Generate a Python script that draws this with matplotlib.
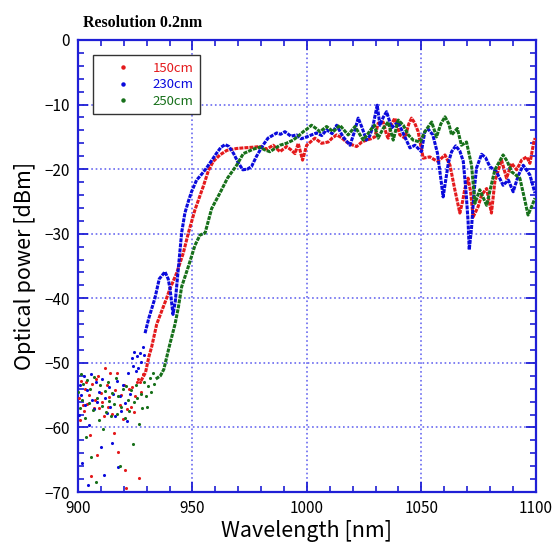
import numpy as np
import matplotlib
matplotlib.use('Agg')
import matplotlib.pyplot as plt
from matplotlib.lines import Line2D
from matplotlib.ticker import MultipleLocator

plt.rcParams['font.family'] = ['Noto Sans CJK JP', 'DejaVu Sans']

labels = ['150cm', '230cm', '250cm']
colors = ['#e41a1c', '#0a0adc', '#17701a']

# noisy floor region (900-935 nm)
red_noise_x = [900.4, 900.9, 901.5, 902.0, 902.5, 903.0, 903.6, 904.0, 904.7, 905.2, 905.7, 906.2,
               906.8, 907.3, 907.9, 908.3, 908.8, 909.3, 910.0, 910.6, 911.2, 911.8, 912.5, 913.0,
               913.6, 914.2, 915.0, 915.7, 916.3, 917.0, 917.5, 918.2, 918.8, 919.5, 920.2, 920.5,
               921.0, 921.6, 922.2, 923.0, 923.6, 924.3, 925.0, 925.6, 926.3, 926.6, 927.0, 927.6, 928.2]
red_noise_y = [-55.5, -58.8, -52.8, -56.6, -57.5, -54.0, -53.0, -56.3, -55.0, -61.2, -67.5, -53.2,
               -57.0, -55.8, -52.5, -64.3, -52.1, -57.0, -54.6, -56.0, -58.2, -50.8, -53.5, -56.8,
               -55.3, -51.5, -57.9, -60.9, -54.2, -51.6, -63.8, -56.5, -55.0, -58.7, -53.4, -66.6,
               -69.4, -57.2, -54.1, -56.9, -53.8, -57.6, -55.2, -53.0, -52.5, -67.8, -52.9, -54.5, -51.8]

blue_noise_x = [900.3, 900.8, 901.3, 901.7, 902.5, 903.2, 904.0, 904.4, 904.8, 905.5, 906.3, 907.0,
                907.8, 908.5, 909.2, 910.0, 910.6, 911.4, 912.0, 912.8, 913.5, 914.2, 914.8, 915.5,
                916.2, 917.0, 917.5, 918.3, 919.0, 919.8, 920.5, 921.2, 922.0, 922.8, 923.4, 924.0,
                924.6, 925.2, 925.8, 926.4, 927.0, 927.6, 928.3, 928.8]
blue_noise_y = [-58.0, -53.5, -55.0, -65.5, -52.0, -56.5, -54.2, -68.9, -59.6, -51.8, -55.8, -57.2,
                -53.0, -56.0, -54.5, -63.0, -52.5, -67.4, -55.5, -57.8, -53.8, -56.8, -62.4, -54.8,
                -58.2, -52.8, -66.1, -55.2, -57.5, -53.5, -56.2, -59.0, -51.5, -54.8, -49.2, -50.5,
                -48.3, -51.2, -49.0, -50.8, -48.5, -49.8, -47.5, -48.8]

green_noise_x = [900.2, 900.7, 901.2, 901.8, 902.4, 903.0, 903.5, 904.1, 904.6, 905.2, 905.8, 906.4,
                 907.0, 907.9, 908.5, 909.1, 909.7, 910.3, 911.0, 911.6, 912.3, 913.0, 913.6, 914.3,
                 915.0, 915.7, 916.4, 917.0, 917.7, 918.3, 919.0, 919.7, 920.4, 921.1, 921.8, 922.5,
                 923.2, 923.9, 924.6, 925.3, 926.0, 926.7, 927.4, 928.1, 928.8, 929.5, 930.2, 930.8,
                 931.4, 932.0, 932.6, 933.2]
green_noise_y = [-54.5, -57.0, -51.8, -55.8, -53.2, -58.5, -61.5, -52.6, -56.2, -54.0, -64.5, -57.3,
                 -52.2, -68.4, -55.5, -58.8, -53.5, -56.7, -60.2, -54.3, -57.6, -52.9, -55.9, -58.2,
                 -54.6, -56.4, -52.4, -57.9, -55.1, -66.0, -56.8, -54.0, -58.6, -53.6, -55.7, -57.4,
                 -54.2, -62.5, -56.0, -53.4, -55.4, -59.5, -54.8, -57.0, -53.0, -55.2, -56.8, -53.6,
                 -52.3, -54.5, -51.5, -53.2]

# spectrum above the floor
red_x = [927.5, 929.5, 931.0, 932.2, 934.4, 936.0, 938.7, 940.2, 943.1, 946.0, 948.2, 951.1, 954.7,
         957.0, 959.1, 962.0, 965.0, 969.3, 972.5, 976.6, 979.5, 982.4, 985.3, 988.2, 991.1, 993.0,
         994.8, 996.2, 998.1, 999.9, 1001.5, 1003.5, 1006.4, 1009.3, 1011.0, 1013.0, 1015.0, 1017.3,
         1019.5, 1021.7, 1024.0, 1026.0, 1028.0, 1029.7, 1031.1, 1033.3, 1034.8, 1035.5, 1037.0,
         1038.4, 1040.6, 1042.8, 1044.5, 1045.7, 1047.0, 1048.6, 1050.8, 1053.7, 1055.5, 1057.3,
         1060.3, 1062.5, 1064.5, 1066.8, 1068.0, 1069.0, 1070.4, 1071.5, 1072.6, 1074.8, 1076.3,
         1078.5, 1080.6, 1082.1, 1085.0, 1087.2, 1089.4, 1091.6, 1093.8, 1096.0, 1097.4, 1099.1, 1099.7]
red_y = [-52.8, -51.5, -49.0, -47.5, -44.0, -42.5, -40.0, -38.5, -36.1, -33.0, -29.9, -26.3, -22.7,
         -20.2, -18.8, -17.8, -17.1, -16.8, -16.7, -16.6, -16.5, -16.9, -16.3, -17.3, -16.5, -17.0,
         -17.6, -16.0, -18.6, -16.3, -15.8, -15.2, -16.0, -15.8, -15.2, -14.7, -15.1, -15.8,
         -16.2, -16.5, -15.8, -15.5, -15.3, -15.0, -12.9, -12.7, -14.7, -15.2, -13.0,
         -12.1, -14.7, -15.2, -13.0, -12.1, -12.8, -14.2, -18.3, -18.1, -18.5, -18.8,
         -17.8, -19.4, -23.0, -26.8, -25.0, -23.0, -21.4, -23.5, -27.4, -25.8, -24.0,
         -23.0, -26.8, -21.9, -18.6, -21.4, -19.1, -20.1, -18.6, -18.1, -19.1, -15.8, -15.2]

blue_x = [929.3, 931.0, 933.6, 935.5, 938.0, 939.4, 940.2, 941.5, 942.5, 943.8, 945.3, 946.7, 948.2,
          949.6, 951.8, 954.0, 956.2, 958.5, 960.6, 962.5, 964.3, 966.0, 968.0, 970.0, 972.0, 974.0,
          975.8, 978.0, 980.8, 983.0, 986.8, 988.5, 990.4, 993.0, 995.5, 997.5, 999.9, 1002.0,
          1004.2, 1006.5, 1008.6, 1011.0, 1013.0, 1014.5, 1015.8, 1018.8, 1020.5, 1022.4, 1024.0,
          1026.0, 1027.5, 1028.8, 1030.7, 1031.9, 1033.3, 1034.8, 1037.0, 1039.8, 1042.5, 1045.0,
          1047.2, 1050.0, 1051.5, 1053.0, 1055.0, 1057.0, 1058.5, 1059.5, 1060.5, 1061.8, 1063.2,
          1065.0, 1066.8, 1068.3, 1069.5, 1070.4, 1070.9, 1071.9, 1073.0, 1074.1, 1076.3, 1078.0,
          1079.9, 1082.8, 1085.7, 1088.0, 1090.1, 1092.3, 1094.5, 1097.4, 1099.6]
blue_y = [-45.4, -43.0, -40.0, -37.0, -35.9, -37.0, -38.5, -42.5, -40.5, -35.5, -29.8, -26.8, -25.0,
          -23.5, -21.7, -20.8, -19.8, -18.6, -17.5, -16.6, -16.2, -16.5, -17.6, -19.0, -20.1, -20.0,
          -19.6, -18.0, -16.3, -15.2, -14.4, -14.6, -14.2, -14.9, -14.7, -15.3, -15.0, -14.7,
          -14.4, -14.8, -13.9, -14.5, -13.2, -14.2, -15.0, -16.3, -14.5, -12.1, -13.5,
          -15.5, -14.8, -13.4, -10.1, -13.2, -12.0, -11.1, -13.6, -12.7, -14.8, -16.7,
          -16.3, -17.3, -14.2, -13.8, -14.7, -17.5, -21.5, -24.3, -22.0, -19.0, -17.3,
          -16.4, -17.2, -18.8, -23.5, -28.1, -32.5, -29.1, -23.5, -19.8, -17.7, -18.2,
          -19.6, -20.4, -22.5, -21.7, -23.5, -21.0, -19.4, -20.9, -23.7]

green_x = [934.0, 936.0, 937.5, 938.5, 940.2, 942.4, 943.8, 945.3, 948.2, 951.1, 953.3, 955.5, 958.4,
           962.0, 965.3, 969.3, 972.2, 976.6, 979.5, 981.5, 983.8, 986.0, 988.2, 991.0, 994.0, 996.5,
           998.4, 1000.0, 1002.0, 1004.0, 1005.7, 1008.6, 1011.5, 1014.4, 1018.0, 1021.0, 1024.6,
           1028.3, 1029.5, 1031.1, 1033.3, 1035.5, 1037.7, 1039.9, 1042.1, 1044.3, 1046.4, 1049.4,
           1051.5, 1054.5, 1056.6, 1058.5, 1060.3, 1062.0, 1063.2, 1065.7, 1067.5, 1069.7, 1071.9,
           1073.4, 1075.5, 1078.5, 1080.5, 1082.1, 1085.7, 1087.5, 1089.4, 1093.0, 1095.0, 1096.6,
           1098.5, 1099.6]
green_y = [-52.5, -52.0, -51.0, -49.5, -47.0, -44.0, -41.5, -38.2, -35.1, -31.8, -30.2, -29.9, -26.1,
           -23.7, -21.4, -19.4, -17.6, -16.9, -16.6, -17.0, -17.3, -16.8, -16.3, -16.0, -15.5, -14.8,
           -14.2, -13.8, -13.2, -13.7, -14.2, -13.4, -14.2, -13.2, -14.7, -13.4, -15.5,
           -13.7, -13.2, -15.2, -13.7, -12.7, -15.5, -12.4, -13.2, -14.7, -15.5, -15.8,
           -14.2, -12.7, -15.0, -13.0, -11.9, -13.0, -14.7, -13.7, -16.3, -15.8, -19.4,
           -25.3, -23.2, -25.6, -22.5, -20.1, -17.8, -18.8, -20.4, -21.4, -24.5, -27.1,
           -25.5, -24.5]

noise = [(red_noise_x, red_noise_y), (blue_noise_x, blue_noise_y), (green_noise_x, green_noise_y)]
curves = [(red_x, red_y), (blue_x, blue_y), (green_x, green_y)]

fig = plt.figure(figsize=(5.53, 5.47), dpi=100)
ax = fig.add_axes([0.141, 0.1005, 0.828, 0.8264])

for (nx, ny), (cx, cy), c in zip(noise, curves, colors):
    ax.scatter(nx, ny, s=5, color=c, linewidths=0, zorder=3)
    ax.plot(cx, cy, color=c, lw=2.2, linestyle=(0, (1.3, 0.35)), zorder=3)

ax.set_xlim(900, 1100)
ax.set_ylim(-70, 0)
ax.xaxis.set_major_locator(MultipleLocator(50))
ax.xaxis.set_minor_locator(MultipleLocator(10))
ax.yaxis.set_major_locator(MultipleLocator(10))
ax.yaxis.set_minor_locator(MultipleLocator(2))

spine_c = '#1f1fd6'
for s in ax.spines.values():
    s.set_color(spine_c)
    s.set_linewidth(1.6)
ax.tick_params(which='both', direction='in', top=True, right=True, color=spine_c,
               labelsize=11, pad=6)
ax.tick_params(which='major', length=7, width=1.3)
ax.tick_params(which='minor', length=4, width=1.2)
ax.grid(True, which='major', color='#6a6af0', linestyle=':', linewidth=1.2)
ax.set_axisbelow(True)

ax.set_xlabel('Wavelength [nm]', fontsize=15.5, labelpad=2)
ax.set_ylabel('Optical power [dBm]', fontsize=15.5, labelpad=6)

fig.text(83 / 553, 1 - 23 / 547, 'Resolution 0.2nm', family='Liberation Serif',
         fontweight='bold', fontsize=11.5, va='center', ha='left')

handles = [Line2D([], [], marker='o', ms=2.2, color=c, linestyle='none') for c in colors]
leg = ax.legend(handles, labels, loc='upper left', bbox_to_anchor=(0.033, 0.966),
                fontsize=9.5, frameon=True, fancybox=False, framealpha=1,
                edgecolor='#333333', handlelength=3.6, handletextpad=0.4,
                labelspacing=0.25, borderpad=0.5, borderaxespad=0)
leg.get_frame().set_linewidth(1.0)
for t, c in zip(leg.get_texts(), colors):
    t.set_color(c)

fig.savefig('out.png', dpi=100)
